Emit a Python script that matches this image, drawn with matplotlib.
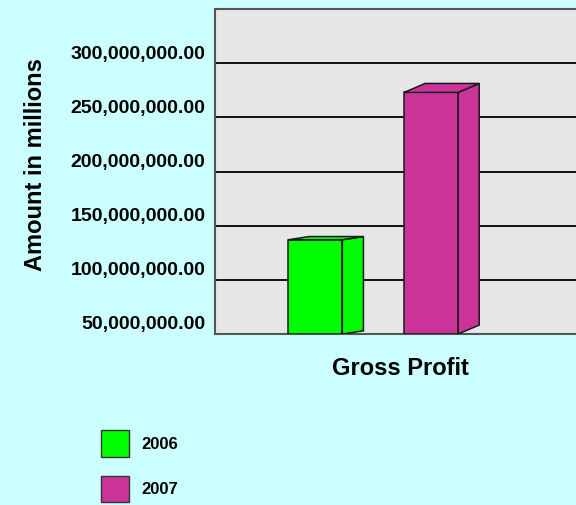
import numpy as np
import matplotlib
matplotlib.use("Agg")
import matplotlib.pyplot as plt
from matplotlib.patches import Polygon, Patch
import matplotlib.transforms as mtransforms

# data
years = ["2006", "2007"]
values = [137_000_000, 273_000_000]
colors = ["#00FF00", "#CC3399"]
category = "Gross Profit"
yticks = [50e6, 100e6, 150e6, 200e6, 250e6, 300e6]

plt.rcParams['font.family'] = ['Liberation Sans', 'DejaVu Sans']
plt.rcParams['font.weight'] = 'bold'

fig = plt.figure(figsize=(5.76, 5.05), dpi=100, facecolor="#CCFFFF")
ax = fig.add_axes([215/576, 1 - 334/505, 366/576, 325/505])
ax.set_facecolor("#E6E6E6")

ymin, ymax = 50e6, 350e6
ax.set_ylim(ymin, ymax)
ax.set_xlim(-0.866, 2.294)

px = (ymax - ymin) / 325.0   # data units per pixel (vertical)
w = 0.467
dx = 0.182                    # depth, x data units

for i, (v, c) in enumerate(zip(values, colors)):
    x0, x1 = i - w/2, i + w/2
    dy = (x1 + 0.323) * 5.76 * px   # perspective-ish depth rise
    front = Polygon([(x0, ymin), (x1, ymin), (x1, v), (x0, v)], closed=True,
                    facecolor=c, edgecolor="#1a1a1a", lw=1.1, zorder=3)
    side = Polygon([(x1, ymin), (x1 + dx, ymin + dy), (x1 + dx, v + dy), (x1, v)],
                   closed=True, facecolor=c, edgecolor="#1a1a1a", lw=1.1, zorder=3)
    top = Polygon([(x0, v), (x1, v), (x1 + dx, v + dy), (x0 + dx, v + dy)],
                  closed=True, facecolor=c, edgecolor="#1a1a1a", lw=1.1, zorder=3)
    for p in (front, side, top):
        ax.add_patch(p)

ax.set_yticks(yticks)
ax.set_yticklabels(["{:,.2f}".format(t) for t in yticks], fontsize=14, fontweight='bold')
ax.yaxis.grid(True, color="black", lw=1.3)
ax.set_axisbelow(True)
ax.tick_params(axis='y', length=0, pad=7)
ax.tick_params(axis='x', length=0, labelbottom=False)
off = mtransforms.ScaledTranslation(0, 11/100, fig.dpi_scale_trans)
for lab in ax.get_yticklabels():
    lab.set_transform(lab.get_transform() + off)

for s in ["left", "top", "bottom"]:
    ax.spines[s].set_color("#555555")
    ax.spines[s].set_linewidth(1.5)
ax.spines["right"].set_visible(False)

ax.set_ylabel("Amount in millions", fontsize=17, fontweight='bold')
ax.yaxis.set_label_coords(-0.459, 0.52)
ax.set_xlabel(category, fontsize=17, fontweight='bold')
ax.xaxis.set_label_coords(0.507, -0.0708)

handles = [Patch(facecolor=c, edgecolor="#333333", lw=1.0) for c in colors]
fig.legend(handles, years, loc="upper left", bbox_to_anchor=(86/576, 1 - 415/505),
           frameon=False, handlelength=1.65, handleheight=2.1,
           labelspacing=1.12, handletextpad=0.8, prop={'weight': 'bold', 'size': 12})

fig.savefig("out.png", dpi=100, facecolor=fig.get_facecolor())
